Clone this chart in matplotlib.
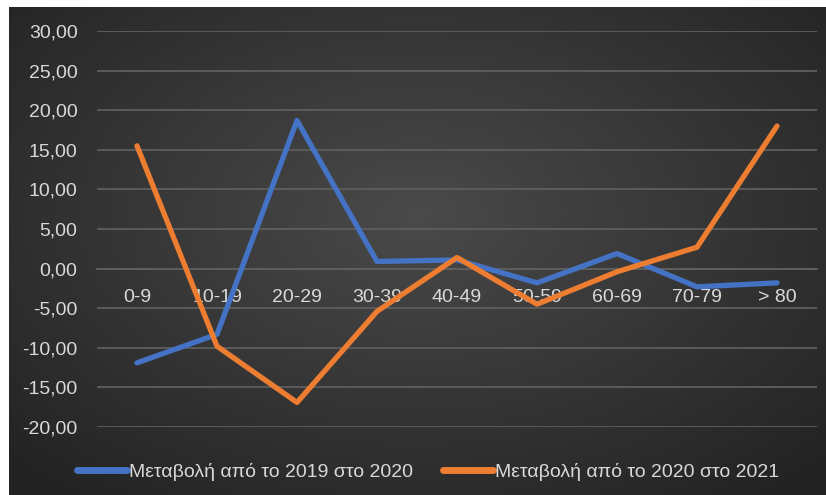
import numpy as np
from matplotlib import pyplot as plt

categories = ['0-9', '10-19', '20-29', '30-39', '40-49', '50-59', '60-69', '70-79', '> 80']
change_2019_2020 = [-11.9, -8.3, 18.7, 0.9, 1.1, -1.8, 1.9, -2.3, -1.8]
change_2020_2021 = [15.5, -9.8, -16.9, -5.4, 1.4, -4.5, -0.4, 2.7, 18.0]
label_2019_2020 = 'Μεταβολή από το 2019 στο 2020'
label_2020_2021 = 'Μεταβολή από το 2020 στο 2021'
y_ticks = [-20, -15, -10, -5, 0, 5, 10, 15, 20, 25, 30]

plt.rcParams['font.family'] = ['Liberation Sans', 'DejaVu Sans']

W, H = 826, 495
fig = plt.figure(figsize=(W / 100, H / 100), dpi=100)
fig.patch.set_facecolor('white')

# dark background with a soft radial glow (Excel style)
bg = fig.add_axes([9 / W, 0, 1 - 9 / W, 1 - 7 / H])
gx, gy = np.meshgrid(np.linspace(-1, 1, 400), np.linspace(-1, 1, 240))
r = np.sqrt((gx * 0.95) ** 2 + ((gy + 0.15) * 0.9) ** 2)
shade = 0.29 - 0.15 * np.clip(r, 0, 1.3) / 1.3
bg.imshow(np.dstack([shade] * 3), aspect='auto', extent=[0, 1, 0, 1])
bg.set_axis_off()

ax = fig.add_axes([97 / W, 1 - 427 / H, 720 / W, 396 / H])
ax.patch.set_alpha(0)
x = np.arange(len(categories))

ax.plot(x, change_2019_2020, color='#4472C4', lw=3.8, solid_joinstyle='round',
        solid_capstyle='round', label=label_2019_2020, zorder=3)
ax.plot(x, change_2020_2021, color='#ED7D31', lw=3.8, solid_joinstyle='round',
        solid_capstyle='round', label=label_2020_2021, zorder=3)

ax.set_xlim(-0.5, len(categories) - 0.5)
ax.set_ylim(-20, 30)
ax.set_yticks(y_ticks)
ax.set_yticklabels([f'{v:.2f}'.replace('.', ',') for v in y_ticks])
ax.yaxis.grid(True, color='#5e5e5e', lw=1.3)
ax.set_axisbelow(True)

for s in ['top', 'right', 'left']:
    ax.spines[s].set_visible(False)
ax.spines['bottom'].set_position(('data', 0))
ax.spines['bottom'].set_color('#5e5e5e')
ax.spines['bottom'].set_linewidth(1.3)

ax.set_xticks(x)
ax.set_xticklabels(categories)
ax.tick_params(axis='x', length=0, pad=15, labelsize=14, labelcolor='#d9d9d9')
ax.tick_params(axis='y', length=0, pad=14, labelsize=14, labelcolor='#d9d9d9')

leg = fig.legend(loc='center', bbox_to_anchor=(428 / W, 1 - 472 / H), ncol=2,
                 frameon=False, fontsize=14, handlelength=2.6, handletextpad=0.1,
                 columnspacing=1.5, labelcolor='#d9d9d9')
for line in leg.get_lines():
    line.set_linewidth(5)

fig.savefig('out.png', dpi=100, facecolor=fig.get_facecolor())
